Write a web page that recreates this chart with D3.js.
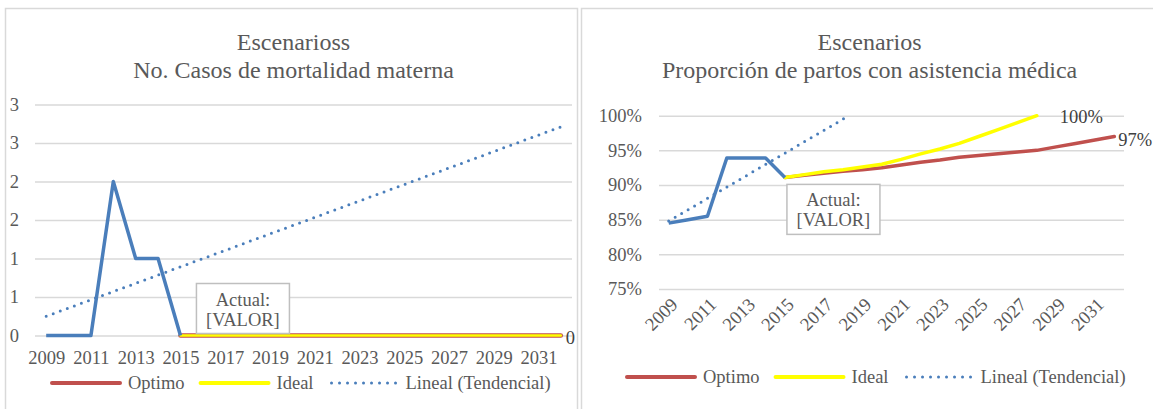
<!DOCTYPE html>
<html>
<head>
<meta charset="utf-8">
<script src="https://cdn.jsdelivr.net/npm/d3@7"></script>
<style>
  body { margin: 0; background: #fff; }
  svg, svg text { font-family: "Liberation Serif", "Times New Roman", Times, Tinos, "Nimbus Roman", "DejaVu Serif", serif !important; }
</style>
</head>
<body>
<div id="chart"></div>
<script>

// categories
let years = [2009, 2010, 2011, 2012, 2013, 2014, 2015, 2016, 2017, 2018, 2019, 2020,
             2021, 2022, 2023, 2024, 2025, 2026, 2027, 2028, 2029, 2030, 2031, 2032];
let labelYears = [2009, 2011, 2013, 2015, 2017, 2019, 2021, 2023, 2025, 2027, 2029, 2031];

// left chart: No. Casos de mortalidad materna
let casosActual = [0, 0, 0, 2, 1, 1, 0];                 // 2009-2015
let casosOptimo = [0, 0, 0, 0, 0, 0, 0, 0, 0, 0, 0, 0, 0, 0, 0, 0, 0, 0]; // 2015-2032
let casosIdeal  = [0, 0, 0, 0, 0, 0, 0, 0, 0, 0, 0, 0, 0, 0, 0, 0, 0, 0]; // 2015-2032
let casosTrend  = [[2009, 0.25], [2032, 2.71]];
let casosTicks  = [0, 0.5, 1, 1.5, 2, 2.5, 3];

// right chart: Proporcion de partos con asistencia medica (%)
let partosActual = [84.5, 85.0, 85.5, 93.9, 93.9, 93.9, 91.1];  // 2009-2015
let partosOptimo = [91.1, 91.4, 91.7, 92.0, 92.2, 92.5, 92.9, 93.3, 93.6, 94.0,
                    94.25, 94.5, 94.75, 95.0, 95.5, 96.0, 96.5, 97.0];   // 2015-2032
let partosIdeal  = [91.1, 91.5, 91.9, 92.2, 92.6, 93.0, 93.7, 94.5, 95.2, 96.0,
                    97.0, 98.0, 99.0, 100.0];                            // 2015-2028
let partosTrend  = [[2009, 84.8], [2018.3, 100]];
let partosTicks  = [75, 80, 85, 90, 95, 100];

let legendNames = ["Optimo", "Ideal", "Lineal (Tendencial)"];

let blue = "#4a7ebb", red = "#c0504d", yellow = "#ffff00";
let txtc = "#595959", gridc = "#d9d9d9";
let fs = 18.5;

let svg = d3.select("#chart").append("svg")
    .attr("width", 1153)
    .attr("height", 409);

svg.append("rect").attr("x", 5.5).attr("y", 8.5).attr("width", 572).attr("height", 420)
    .attr("fill", "#fff").attr("stroke", gridc).attr("stroke-width", 1.5);
svg.append("rect").attr("x", 581.5).attr("y", 8.5).attr("width", 590).attr("height", 420)
    .attr("fill", "#fff").attr("stroke", gridc).attr("stroke-width", 1.5);


function pairs (startYear, vals) {
  return vals.map((v, i) => [startYear + i, v]);
}


function drawPanel (o) {
  let g = svg.append("g");
  let x = d3.scaleLinear().domain([2008.5, 2032.5]).range(o.xr);
  let y = d3.scaleLinear().domain(o.ydom).range(o.yr);

  // titles
  o.title.forEach((t, i) => {
    g.append("text")
      .attr("x", o.tx).attr("y", 50 + i * 28)
      .attr("text-anchor", "middle")
      .attr("font-size", 24).attr("fill", txtc)
      .text(t);
  });

  // y axis + grid
  let ya = g.append("g")
      .attr("transform", `translate(${o.xr[0]},0)`)
      .call(d3.axisLeft(y).tickValues(o.ticks).tickSize(-(o.xr[1] - o.xr[0]))
            .tickPadding(o.ypad).tickFormat(o.fmt));
  ya.attr("font-family", null);
  ya.select(".domain").remove();
  ya.selectAll("line").attr("stroke", gridc).attr("stroke-width", 1.5);
  ya.selectAll("text").attr("font-size", fs).attr("fill", txtc);

  // x axis labels
  let xa = g.append("g")
      .attr("transform", `translate(0,${o.yr[0]})`)
      .call(d3.axisBottom(x).tickValues(labelYears).tickSize(0).tickPadding(15)
            .tickFormat(d3.format("d")));
  xa.attr("font-family", null);
  xa.select(".domain").remove();
  xa.selectAll("text").attr("font-size", fs).attr("fill", txtc);
  if (o.rotate) {
    xa.selectAll("text")
      .attr("y", 0).attr("dy", "0.35em")
      .attr("text-anchor", "end")
      .attr("transform", "translate(5,12) rotate(-45)");
  }

  let line = d3.line().x(d => x(d[0])).y(d => y(d[1]));

  // trend
  g.append("path").datum(o.trend)
    .attr("d", line).attr("fill", "none")
    .attr("stroke", blue).attr("stroke-width", 3)
    .attr("stroke-linecap", "round").attr("stroke-dasharray", "0 7.5");

  g.append("path").datum(pairs(2015, o.optimo))
    .attr("d", line).attr("fill", "none")
    .attr("stroke", red).attr("stroke-width", o.optW)
    .attr("stroke-linejoin", "round").attr("stroke-linecap", "round");
  g.append("path").datum(pairs(2015, o.ideal))
    .attr("d", line).attr("fill", "none")
    .attr("stroke", yellow).attr("stroke-width", o.ideW)
    .attr("stroke-linejoin", "round").attr("stroke-linecap", "round");
  g.append("path").datum(pairs(2009, o.actual))
    .attr("d", line).attr("fill", "none")
    .attr("stroke", blue).attr("stroke-width", 3.5)
    .attr("stroke-linejoin", "round");

  // end labels
  o.endLabels.forEach(l => {
    g.append("text")
      .attr("x", x(l.yr) + l.dx).attr("y", y(l.v) + l.dy)
      .attr("dy", "0.35em").attr("font-size", fs).attr("fill", "#404040")
      .text(l.t);
  });

  // callout box
  let bx = x(2015) + o.box.dx, by = y(o.actual[6]) + o.box.dy;
  g.append("rect").attr("x", bx).attr("y", by).attr("width", 93).attr("height", 50)
    .attr("fill", "#fff").attr("stroke", "#bfbfbf").attr("stroke-width", 1.5);
  ["Actual:", "[VALOR]"].forEach((t, i) => {
    g.append("text").attr("x", bx + 46.5).attr("y", by + 22 + i * 20)
      .attr("text-anchor", "middle").attr("font-size", fs).attr("fill", txtc)
      .text(t);
  });

  // legend
  let lx = o.lx;
  legendNames.forEach((n, i) => {
    let ln = g.append("line")
      .attr("x1", lx).attr("x2", lx + 68).attr("y1", o.ly).attr("y2", o.ly)
      .attr("stroke-width", i == 2 ? 3 : 4).attr("stroke-linecap", "round")
      .attr("stroke", [red, yellow, blue][i]);
    if (i == 2) ln.attr("stroke-dasharray", "0 8").attr("x1", lx + 2);
    let t = g.append("text")
      .attr("x", lx + 76).attr("y", o.ly).attr("dy", "0.35em")
      .attr("font-size", fs).attr("fill", txtc).text(n);
    lx += 76 + t.node().getComputedTextLength() + 16;
  });
}


drawPanel({
  xr: [35, 572], yr: [335.5, 104.5], ydom: [0, 3],
  ticks: casosTicks, fmt: d => String(Math.round(d)), ypad: 16,
  title: ["Escenarioss", "No. Casos de mortalidad materna"], tx: 293.5,
  actual: casosActual, optimo: casosOptimo, ideal: casosIdeal, trend: casosTrend,
  optW: 4.5, ideW: 2.5,
  endLabels: [{yr: 2032, v: 0, t: "0", dx: 5, dy: 2}],
  box: {dx: 16, dy: -52},
  lx: 52, ly: 383, rotate: false
});

drawPanel({
  xr: [659, 1124], yr: [289, 115.7], ydom: [75, 100],
  ticks: partosTicks, fmt: d => d + "%", ypad: 17,
  title: ["Escenarios", "Proporción de partos con asistencia médica"], tx: 869.6,
  actual: partosActual, optimo: partosOptimo, ideal: partosIdeal, trend: partosTrend,
  optW: 3.5, ideW: 3.5,
  endLabels: [{yr: 2028, v: 100, t: "100%", dx: 23, dy: 1},
              {yr: 2032, v: 97, t: "97%", dx: 4, dy: 3}],
  box: {dx: 2, dy: 7},
  lx: 627, ly: 377, rotate: true
});

</script>
</body>
</html>
